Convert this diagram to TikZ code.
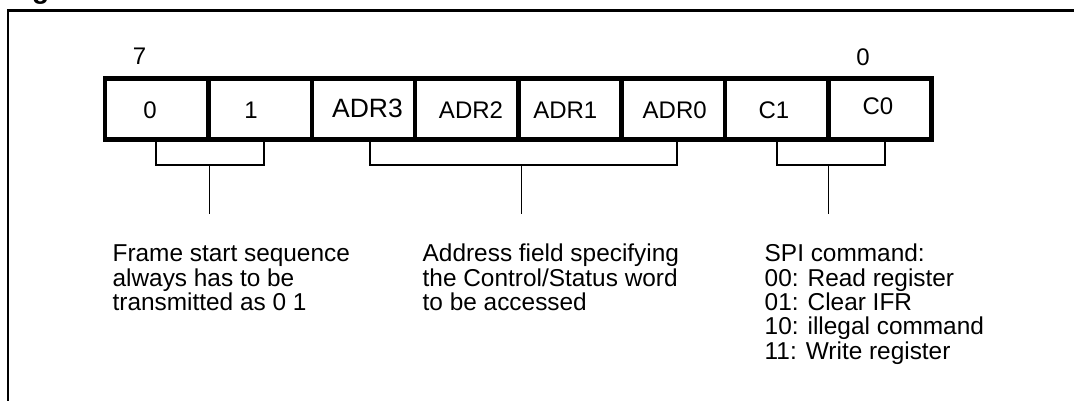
\documentclass[tikz,border=0pt]{standalone}
\usepackage{fontspec}
\setmainfont{Liberation Sans}
\begin{document}
\begin{tikzpicture}[x=1pt,y=-1pt,
  cell/.style={draw,line width=4.5pt,minimum width=103.3pt,minimum height=61.4pt,inner sep=0pt},
  bit/.style={font=\fontsize{24}{24}\selectfont,inner sep=0pt,anchor=base},
  note/.style={font=\fontsize{24.4}{24.4}\selectfont,align=left,inner sep=0pt,anchor=base west},
  brk/.style={line width=1.3pt},
  frameline/.style={line width=2.6pt}]
\useasboundingbox (0,0) rectangle (1074,400);
\clip (0,0) rectangle (1074,400);
% outer frame (only left and top edges inside the picture)
\draw[frameline] (8,420) -- (8,10.3) -- (1090,10.3);
\node[anchor=base west,inner sep=0pt,font=\bfseries\fontsize{28}{28}\selectfont] (cap) at (7,-2) {Figure};
% bit cells
\node[cell] (b7) at (156.85,109) {};
\node[cell] (b6) at (260.15,109) {};
\node[cell] (b5) at (363.45,109) {};
\node[cell] (b4) at (466.75,109) {};
\node[cell] (b3) at (570.05,109) {};
\node[cell] (b2) at (673.35,109) {};
\node[cell] (b1) at (776.65,109) {};
\node[cell] (b0) at (879.95,109) {};
% cell texts
\node[bit] (t7) at (150,118.3) {0};
\node[bit] (t6) at (251,118.3) {1};
\node[bit,font=\fontsize{26.5}{26.5}\selectfont] (t5) at (367.5,117.7) {ADR3};
\node[bit] (t4) at (471,118) {ADR2};
\node[bit] (t3) at (565.3,118) {ADR1};
\node[bit] (t2) at (674.7,118) {ADR0};
\node[bit] (t1) at (774,118) {C1};
\node[bit] (t0) at (878,114) {C0};
% bit numbers
\node[bit] (n7) at (139.5,64.3) {7};
\node[bit] (n0) at (863,65.3) {0};
% brackets
\coordinate (m1) at (209.7,165);
\coordinate (m2) at (521.3,165);
\coordinate (m3) at (828.7,165);
\coordinate (s1) at (209.7,214);
\coordinate (s2) at (521.3,214);
\coordinate (s3) at (828.7,214);
\draw[brk] ([xshift=-0.85pt]b7.south) |- (m1) -| ([xshift=3.85pt]b6.south);
\draw[brk] ([xshift=6.55pt]b5.south) |- (m2) -| ([xshift=3.65pt]b2.south);
\draw[brk] ([xshift=0.35pt]b1.south) |- (m3) -| ([xshift=5.05pt]b0.south);
\draw[brk] (m1) -- (s1);
\draw[brk] (m2) -- (s2);
\draw[brk] (m3) -- (s3);
% notes (base anchor = baseline of the last line)
\node[note] (d1) at (112.4,310.5) {Frame start sequence\\always has to be\\transmitted as 0 1};
\node[note] (d2) at (422.5,310.5) {Address field specifying\\the Control/Status word\\to be accessed};
\node[note] (d3) at (764.5,359.3) {SPI command:\\00: Read register\\01: Clear IFR\\10: illegal command\\11: Write register};
\end{tikzpicture}
\end{document}
